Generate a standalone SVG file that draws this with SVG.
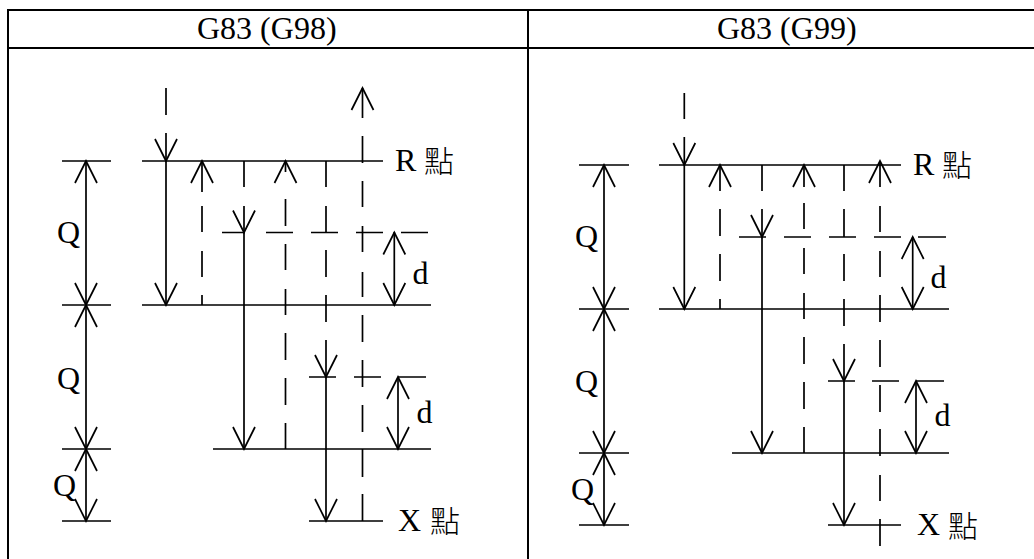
<svg xmlns="http://www.w3.org/2000/svg" width="1034" height="559" viewBox="0 0 1034 559">
<style>
.t{fill:none;stroke:#000;stroke-width:2}
.l{fill:none;stroke:#000;stroke-width:1.7}
text{font-family:"Liberation Serif","Noto Sans CJK TC",serif;font-size:32px;fill:#000}
.c{font-family:"Noto Sans CJK TC","Liberation Serif",serif;font-size:30px;font-weight:300}
</style>
<defs>
<path id="up" class="l" d="M-11,22L0,0L11,22"/>
<path id="dn" class="l" d="M-11,-22L0,0L11,-22"/>
</defs>
<rect width="1034" height="559" fill="#fff"/>
<g id="table">
<path class="t" d="M7,10H1034M7,48H1034M8,10V559M528,10V559"/>
<text x="197" y="39">G83 (G98)</text>
<text x="717" y="39">G83 (G99)</text>
</g>
<g id="panel-g98">
<g id="levels-g98">
<path class="l" d="M62,161H111M62,305H111M62,449H111M62,521H111M142,161H383M142,305H431M213,449H431M309,521H383"/>
<path class="l" d="M222,232.500H245M266,232.500H293M311,232.500H338M356,232.500H383M401,232.500H428M309,377H336M354,377H381M398,377H426"/>
</g>
<g id="connectors-g98">
<path class="l" d="M86,161V521M166,88V115M166,133V305M244,161V187M244,206V449M326,161V187M326,206V232M326,250V277M326,295V322M326,340V521M394.300,232V305M398,377V449"/>
<path class="l" d="M202,161V192M202,206V232M202,251V277M202,295V305M285.500,161V172M285.500,199V226M285.500,244V270M285.500,289V315M285.500,333V360M285.500,378V405M285.500,423V449M362.500,88V118M362.500,136V163M362.500,181V207M362.500,226V252M362.500,272V297M362.500,315V342M362.500,360V387M362.500,405V432M362.500,449V477M362.500,494V521"/>
<use href="#up" x="86" y="161"/><use href="#dn" x="86" y="305"/><use href="#up" x="86" y="305"/><use href="#dn" x="86" y="449"/><use href="#up" x="86" y="449"/><use href="#dn" x="86" y="521"/>
<use href="#dn" x="166" y="161"/><use href="#dn" x="166" y="305"/><use href="#up" x="202" y="161"/><use href="#dn" x="244" y="232.500"/><use href="#dn" x="244" y="449"/><use href="#up" x="285.500" y="161"/><use href="#dn" x="326" y="377"/><use href="#dn" x="326" y="521"/><use href="#up" x="362.500" y="88"/>
<use href="#up" x="394.300" y="232.500"/><use href="#dn" x="394.300" y="305"/><use href="#up" x="398" y="377"/><use href="#dn" x="398" y="449"/>
</g>
<g id="labels-g98">
<text x="57" y="243">Q</text><text x="57" y="389">Q</text><text x="53" y="496">Q</text>
<text x="412.500" y="284">d</text><text x="416.500" y="423">d</text>
<text x="395" y="171">R</text><text class="c" x="424" y="172">點</text>
<text x="398" y="531">X</text><text class="c" x="430" y="532">點</text>
</g>
</g>
<g id="panel-g99">
<g id="levels-g99">
<path class="l" d="M579,165H629M579,309H629M579,453H629M579,525H629M659,165H901M659,309H949M732,453H949M828,525H901"/>
<path class="l" d="M739,237H766M784,237H811M829,237H856M874,237H901M918,237H946M828,381H855M872,381H899M916,381H944"/>
</g>
<g id="connectors-g99">
<path class="l" d="M604,165V525M684.300,93V119M684.300,137V309M762,165V191M762,209V453M844,165V191M844,209V237M844,254V281M844,299V326M844,344V525M912.700,237V309M916,381V453"/>
<path class="l" d="M720,165V191M720,209V236M720,254V281M720,299V309M804,165V187M804,203V229M804,248V274M804,293V319M804,337V364M804,382V409M804,427V453M880,161V187M880,206V232M880,251V277M880,295V322M880,340V367M880,385V412M880,429V456M880,475V501M880,519V546"/>
<use href="#up" x="604" y="165"/><use href="#dn" x="604" y="309"/><use href="#up" x="604" y="309"/><use href="#dn" x="604" y="453"/><use href="#up" x="604" y="453"/><use href="#dn" x="604" y="525"/>
<use href="#dn" x="684.300" y="165"/><use href="#dn" x="684.300" y="309"/><use href="#up" x="720" y="165"/><use href="#dn" x="762" y="237"/><use href="#dn" x="762" y="453"/><use href="#up" x="804" y="165"/><use href="#dn" x="844" y="381"/><use href="#dn" x="844" y="525"/><use href="#up" x="880" y="161"/>
<use href="#up" x="912.700" y="237"/><use href="#dn" x="912.700" y="309"/><use href="#up" x="916" y="381"/><use href="#dn" x="916" y="453"/>
</g>
<g id="labels-g99">
<text x="575" y="247">Q</text><text x="575" y="392">Q</text><text x="571" y="500">Q</text>
<text x="930.500" y="288">d</text><text x="934.500" y="426">d</text>
<text x="913" y="175">R</text><text class="c" x="942" y="176">點</text>
<text x="917" y="535">X</text><text class="c" x="948" y="537">點</text>
</g>
</g>
</svg>
